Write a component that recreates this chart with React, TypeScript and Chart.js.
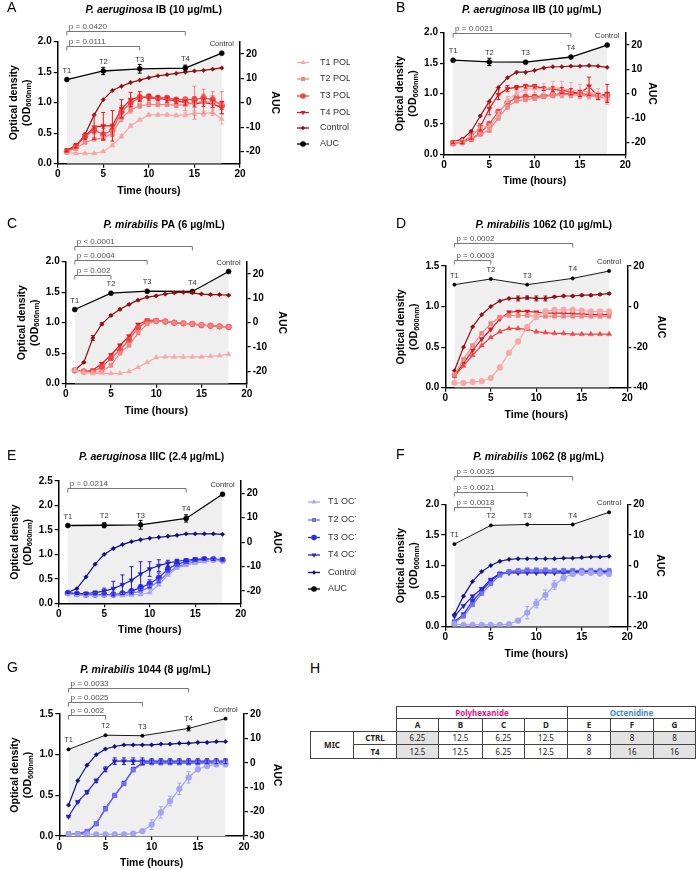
import React, { useEffect, useRef } from 'react';
import { Chart, registerables } from 'chart.js';

Chart.register(...registerables);

const FONT = "'Liberation Sans', Arial, Helvetica, sans-serif";
const TFONT = "'Noto Sans', 'Open Sans', sans-serif";
Chart.defaults.font.family = FONT;
Chart.defaults.color = '#000';

// ---------- shared axes data ----------
const HOURS = [1, 2, 3, 4, 5, 6, 7, 8, 9, 10, 11, 12, 13, 14, 15, 16, 17, 18];
const AUC_HOURS = [1, 5, 9, 14, 18];
const AUC_LABELS = ['T1', 'T2', 'T3', 'T4', 'Control'];
const POL_NAMES = ['T1 POL', 'T2 POL', 'T3 POL', 'T4 POL', 'Control', 'AUC'];
const OCT_NAMES = ['T1 OCT', 'T2 OCT', 'T3 OCT', 'T4 OCT', 'Control', 'AUC'];
const AUC_TICKS_25 = [-20, -10, 0, 10, 20];
const AUC_TICKS_D = [-40, -20, 0, 20];
const AUC_TICKS_F = [-20, -10, 0, 10, 20];
const AUC_TICKS_G = [-30, -20, -10, 0, 10, 20];

// ---------- Panel A ----------
const A_T1 = [0.18, 0.17, 0.17, 0.17, 0.2, 0.3, 0.45, 0.62, 0.72, 0.8, 0.8, 0.8, 0.79, 0.8, 0.83, 0.82, 0.84, 0.73];
const A_T2 = [0.2, 0.25, 0.35, 0.4, 0.42, 0.5, 0.75, 0.88, 0.95, 0.97, 0.97, 0.97, 0.96, 0.97, 1.0, 1.02, 1.0, 1.0];
const A_T3 = [0.2, 0.28, 0.45, 0.55, 0.48, 0.55, 0.85, 1.0, 1.08, 1.1, 1.08, 1.08, 1.05, 1.05, 1.05, 1.08, 1.05, 0.95];
const A_T4 = [0.22, 0.3, 0.45, 0.6, 0.62, 0.62, 0.9, 1.05, 1.1, 1.08, 1.07, 1.05, 1.03, 1.0, 0.98, 1.0, 0.98, 0.92];
const A_CTRL = [0.2, 0.28, 0.48, 0.8, 1.05, 1.2, 1.27, 1.33, 1.37, 1.41, 1.44, 1.46, 1.48, 1.5, 1.52, 1.53, 1.55, 1.57];
const A_AUC = [9.5, 13, 13.9, 14.2, 20.3];
const A_T1_ERR = [0.01, 0.01, 0.01, 0.01, 0.01, 0.02, 0.03, 0.03, 0.02, 0.02, 0.02, 0.02, 0.02, 0.03, 0.04, 0.04, 0.05, 0.08];
const A_T2_ERR = [0.02, 0.02, 0.02, 0.02, 0.03, 0.04, 0.06, 0.05, 0.04, 0.03, 0.03, 0.03, 0.04, 0.1, 0.27, 0.2, 0.18, 0.18];
const A_T3_ERR = [0.02, 0.03, 0.04, 0.06, 0.1, 0.1, 0.1, 0.06, 0.05, 0.04, 0.03, 0.03, 0.03, 0.04, 0.05, 0.06, 0.06, 0.06];
const A_T4_ERR = [0.02, 0.03, 0.05, 0.2, 0.22, 0.25, 0.15, 0.12, 0.08, 0.05, 0.04, 0.04, 0.04, 0.04, 0.05, 0.06, 0.06, 0.1];
const A_AUC_ERR = [0, 1.5, 1.8, 1.2, 0];

// ---------- Panel B ----------
const B_T1 = [0.2, 0.22, 0.3, 0.45, 0.45, 0.65, 0.9, 1.0, 1.07, 1.08, 1.08, 1.1, 1.08, 1.06, 1.05, 1.02, 1.0, 0.9];
const B_T2 = [0.18, 0.2, 0.25, 0.33, 0.4, 0.6, 0.78, 0.88, 0.9, 0.92, 0.95, 0.97, 0.98, 0.98, 0.97, 0.96, 0.95, 0.92];
const B_T3 = [0.18, 0.2, 0.25, 0.35, 0.5, 0.7, 0.85, 0.93, 0.95, 0.95, 0.96, 0.98, 1.0, 1.0, 1.0, 0.98, 0.97, 0.97];
const B_T4 = [0.2, 0.2, 0.3, 0.45, 0.75, 0.98, 1.08, 1.1, 1.12, 1.12, 1.08, 1.07, 1.05, 1.03, 1.0, 1.12, 0.95, 1.0];
const B_CTRL = [0.2, 0.25, 0.38, 0.63, 0.87, 1.1, 1.26, 1.35, 1.35, 1.38, 1.42, 1.44, 1.44, 1.45, 1.45, 1.46, 1.45, 1.43];
const B_AUC = [13.7, 13, 12.9, 15, 19.9];
const B_T1_ERR = [0.01, 0.01, 0.02, 0.04, 0.05, 0.05, 0.05, 0.04, 0.05, 0.06, 0.08, 0.1, 0.12, 0.12, 0.1, 0.08, 0.08, 0.08];
const B_T2_ERR = [0.01, 0.01, 0.02, 0.03, 0.04, 0.04, 0.04, 0.03, 0.03, 0.03, 0.03, 0.04, 0.05, 0.05, 0.05, 0.05, 0.05, 0.05];
const B_T4_ERR = [0.02, 0.02, 0.05, 0.05, 0.1, 0.08, 0.05, 0.03, 0.03, 0.03, 0.03, 0.04, 0.05, 0.05, 0.05, 0.15, 0.05, 0.15];
const B_AUC_ERR = [0, 1.5, 0, 0, 0];

// ---------- Panel C ----------
const C_T1 = [0.22, 0.18, 0.17, 0.17, 0.17, 0.17, 0.2, 0.27, 0.35, 0.43, 0.44, 0.44, 0.44, 0.44, 0.44, 0.45, 0.46, 0.48];
const C_T2 = [0.22, 0.2, 0.18, 0.2, 0.3, 0.5, 0.63, 0.83, 0.98, 1.03, 1.02, 1.0, 0.99, 0.98, 0.96, 0.95, 0.94, 0.93];
const C_T3 = [0.22, 0.2, 0.2, 0.27, 0.42, 0.55, 0.72, 0.92, 1.02, 1.03, 1.02, 1.0, 0.99, 0.98, 0.96, 0.95, 0.94, 0.93];
const C_T4 = [0.22, 0.2, 0.22, 0.33, 0.47, 0.63, 0.78, 0.97, 1.04, 1.04, 1.02, 1.0, 0.99, 0.98, 0.96, 0.95, 0.94, 0.93];
const C_CTRL = [0.22, 0.35, 0.75, 0.98, 1.12, 1.22, 1.3, 1.37, 1.42, 1.44, 1.47, 1.49, 1.5, 1.49, 1.47, 1.46, 1.46, 1.45];
const C_AUC = [5.4, 12.1, 12.9, 12.8, 21];
const C_CTRL_ERR = [0, 0.01, 0.04, 0.02, 0.01, 0.01, 0.01, 0.01, 0.01, 0.01, 0.01, 0.01, 0.01, 0.01, 0.01, 0.01, 0.01, 0.01];

// ---------- Panel D ----------
const D_T1 = [0.06, 0.06, 0.07, 0.08, 0.12, 0.25, 0.43, 0.57, 0.75, 0.88, 0.94, 0.96, 0.96, 0.96, 0.95, 0.94, 0.94, 0.94];
const D_T2 = [0.16, 0.35, 0.52, 0.67, 0.79, 0.87, 0.89, 0.89, 0.89, 0.88, 0.88, 0.88, 0.88, 0.88, 0.88, 0.88, 0.88, 0.88];
const D_T3 = [0.14, 0.27, 0.4, 0.52, 0.62, 0.69, 0.73, 0.73, 0.72, 0.69, 0.68, 0.67, 0.67, 0.66, 0.66, 0.66, 0.66, 0.66];
const D_T4 = [0.15, 0.3, 0.46, 0.6, 0.72, 0.85, 0.93, 0.94, 0.94, 0.93, 0.92, 0.92, 0.92, 0.91, 0.91, 0.9, 0.9, 0.9];
const D_CTRL = [0.21, 0.5, 0.75, 0.9, 1.0, 1.07, 1.1, 1.1, 1.11, 1.1, 1.1, 1.12, 1.13, 1.13, 1.14, 1.14, 1.15, 1.16];
const D_AUC = [10.8, 13.6, 10.8, 13.9, 17.5];
const D_T1_ERR = [0, 0, 0, 0, 0, 0, 0, 0, 0.01, 0.04, 0.03, 0.02, 0.02, 0.01, 0.01, 0.01, 0.01, 0.01];
const D_CTRL_ERR = [0, 0, 0, 0, 0, 0, 0, 0.03, 0.02, 0.03, 0.03, 0.01, 0.01, 0.01, 0.01, 0.01, 0.01, 0.01];

// ---------- Panel E ----------
const E_T1 = [0.19, 0.17, 0.16, 0.16, 0.16, 0.16, 0.16, 0.17, 0.18, 0.22, 0.38, 0.58, 0.72, 0.78, 0.82, 0.85, 0.87, 0.86];
const E_T2 = [0.2, 0.18, 0.17, 0.17, 0.17, 0.17, 0.18, 0.2, 0.25, 0.33, 0.45, 0.62, 0.75, 0.8, 0.85, 0.88, 0.9, 0.88];
const E_T3 = [0.21, 0.19, 0.18, 0.18, 0.18, 0.18, 0.2, 0.25, 0.32, 0.4, 0.52, 0.7, 0.8, 0.85, 0.88, 0.9, 0.9, 0.88];
const E_T4 = [0.22, 0.2, 0.2, 0.22, 0.25, 0.3, 0.38, 0.47, 0.6, 0.7, 0.77, 0.82, 0.86, 0.88, 0.9, 0.91, 0.9, 0.9];
const E_CTRL = [0.22, 0.3, 0.54, 0.8, 1.0, 1.12, 1.2, 1.26, 1.3, 1.33, 1.35, 1.37, 1.39, 1.42, 1.42, 1.42, 1.42, 1.41];
const E_AUC = [6.8, 6.9, 7.1, 9.7, 19.6];
const E_T3_ERR = [0.01, 0.01, 0.01, 0.01, 0.01, 0.01, 0.02, 0.03, 0.06, 0.08, 0.1, 0.06, 0.04, 0.03, 0.02, 0.02, 0.02, 0.02];
const E_T4_ERR = [0.02, 0.02, 0.02, 0.03, 0.06, 0.15, 0.2, 0.28, 0.25, 0.15, 0.12, 0.06, 0.04, 0.03, 0.02, 0.02, 0.02, 0.02];
const E_AUC_ERR = [0, 1, 1.8, 1.5, 0];

// ---------- Panel F ----------
const F_T1 = [0.04, 0.03, 0.03, 0.03, 0.03, 0.03, 0.04, 0.1, 0.23, 0.38, 0.52, 0.68, 0.8, 0.86, 0.88, 0.88, 0.87, 0.86];
const F_T2 = [0.07, 0.17, 0.36, 0.54, 0.7, 0.84, 0.9, 0.92, 0.93, 0.93, 0.93, 0.92, 0.92, 0.92, 0.92, 0.92, 0.92, 0.92];
const F_T3 = [0.08, 0.2, 0.42, 0.58, 0.75, 0.86, 0.9, 0.91, 0.91, 0.91, 0.91, 0.91, 0.9, 0.9, 0.9, 0.9, 0.9, 0.9];
const F_T4 = [0.17, 0.34, 0.5, 0.62, 0.77, 0.87, 0.88, 0.88, 0.88, 0.88, 0.88, 0.88, 0.88, 0.88, 0.88, 0.88, 0.88, 0.87];
const F_CTRL = [0.2, 0.5, 0.74, 0.9, 1.0, 1.07, 1.1, 1.11, 1.11, 1.11, 1.11, 1.11, 1.12, 1.12, 1.13, 1.14, 1.14, 1.15];
const F_AUC = [7.0, 13.1, 13.4, 13.4, 17.4];
const F_T1_ERR = [0, 0, 0, 0, 0, 0, 0.01, 0.03, 0.1, 0.07, 0.08, 0.07, 0.05, 0.02, 0.02, 0.02, 0.02, 0.02];

// ---------- Panel G ----------
const G_T1 = [0.02, 0.02, 0.02, 0.02, 0.02, 0.02, 0.02, 0.03, 0.06, 0.14, 0.29, 0.43, 0.58, 0.72, 0.82, 0.86, 0.88, 0.88];
const G_T2 = [0.03, 0.03, 0.06, 0.15, 0.33, 0.5, 0.64, 0.81, 0.89, 0.9, 0.9, 0.9, 0.9, 0.9, 0.9, 0.9, 0.91, 0.91];
const G_T3 = [0.02, 0.02, 0.05, 0.15, 0.34, 0.5, 0.65, 0.82, 0.9, 0.9, 0.9, 0.9, 0.9, 0.9, 0.9, 0.9, 0.9, 0.9];
const G_T4 = [0.24, 0.42, 0.54, 0.68, 0.82, 0.92, 0.92, 0.92, 0.92, 0.92, 0.92, 0.92, 0.92, 0.92, 0.92, 0.92, 0.92, 0.92];
const G_CTRL = [0.38, 0.68, 0.87, 1.0, 1.07, 1.1, 1.12, 1.12, 1.12, 1.12, 1.13, 1.13, 1.14, 1.14, 1.15, 1.15, 1.16, 1.16];
const G_AUC = [5.5, 11.3, 11.1, 14.1, 18.1];
const G_T1_ERR = [0, 0, 0, 0, 0, 0, 0, 0.01, 0.01, 0.06, 0.07, 0.06, 0.07, 0.07, 0.03, 0.02, 0.02, 0.02];
const G_T4_ERR = [0.01, 0.01, 0.02, 0.02, 0.03, 0.04, 0.04, 0.04, 0.04, 0.03, 0.03, 0.03, 0.03, 0.03, 0.03, 0.03, 0.03, 0.03];
const G_AUC_ERR = [0, 0, 0, 1, 0];

// ---------- H table ----------
const MIC_COLS = ['A', 'B', 'C', 'D', 'E', 'F', 'G'];
const MIC_CTRL = ['6.25', '12.5', '6.25', '12.5', '8', '8', '8'];
const MIC_T4 = ['12.5', '12.5', '6.25', '12.5', '8', '16', '16'];
const MIC_SHADED = [true, false, false, false, false, true, true];

// ---------- styles ----------
const RED = ['#F6A8A8', '#F28484', '#EC4848', '#E5161B', '#8E1014'];
const BLUE = ['#A3A3F3', '#7272EE', '#2C2CF0', '#2222C4', '#101078'];
type Shape = [string, number];
const SH_1: Shape[] = [['triangle', 0], ['rect', 0], ['circle', 0], ['triangle', 180], ['rectRot', 0]];
const SH_D: Shape[] = [['circle', 0], ['rect', 0], ['triangle', 0], ['triangle', 180], ['rectRot', 0]];
const SH_FG: Shape[] = [['circle', 0], ['rect', 0], ['rect', 0], ['triangle', 180], ['rectRot', 0]];

type Series = { data: number[]; err?: number[] };
type Bracket = { to: number; level: number; label: string };
interface PanelDef {
  letter: string; italic: string; rest: string;
  ox: number; oy: number; cw: number; ch: number;
  L: number; R: number; T: number; B: number;
  yMax: number; y2Min: number; y2Max: number; y2Ticks: number[];
  series: Series[]; auc: number[]; aucErr?: number[];
  aucRadius: number; aucWidth: number;
  brackets: Bracket[]; colors: string[]; shapes: Shape[]; names: string[];
  legend?: { lineX: number; textX: number; ys: number[] };
  titleX: number; titleY: number; letterX: number; letterY: number; aucDx: number;
}

const PANELS: PanelDef[] = [
  {
    letter: 'A', italic: 'P. aeruginosa', rest: ' IB (10 µg/mL)',
    ox: 0, oy: 0, cw: 350, ch: 210, L: 57.7, R: 240, T: 41.7, B: 163.7,
    yMax: 2, y2Min: -25, y2Max: 25, y2Ticks: AUC_TICKS_25,
    series: [{ data: A_T1, err: A_T1_ERR }, { data: A_T2, err: A_T2_ERR }, { data: A_T3, err: A_T3_ERR }, { data: A_T4, err: A_T4_ERR }, { data: A_CTRL }],
    auc: A_AUC, aucErr: A_AUC_ERR, aucRadius: 2.5, aucWidth: 1.3,
    brackets: [{ to: 14, level: 2.18, label: 'p = 0.0420' }, { to: 9, level: 1.925, label: 'p = 0.0111' }],
    colors: RED, shapes: SH_1, names: POL_NAMES,
    legend: { lineX: 303, textX: 320, ys: [62.5, 79, 96, 112.5, 128, 144] },
    titleX: 153.7, titleY: 10, letterX: 7, letterY: 8, aucDx: 35,
  },
  {
    letter: 'B', italic: 'P. aeruginosa', rest: ' IIB (10 µg/mL)',
    ox: 350, oy: 0, cw: 349, ch: 210, L: 444, R: 625.3, T: 32.7, B: 154.3,
    yMax: 2, y2Min: -25, y2Max: 25, y2Ticks: AUC_TICKS_25,
    series: [{ data: B_T1, err: B_T1_ERR }, { data: B_T2, err: B_T2_ERR }, { data: B_T3 }, { data: B_T4, err: B_T4_ERR }, { data: B_CTRL }],
    auc: B_AUC, aucErr: B_AUC_ERR, aucRadius: 2.5, aucWidth: 1.3,
    brackets: [{ to: 14, level: 2.0, label: 'p = 0.0021' }],
    colors: RED, shapes: SH_1, names: POL_NAMES,
    titleX: 531.7, titleY: 10, letterX: 396, letterY: 8, aucDx: 27,
  },
  {
    letter: 'C', italic: 'P. mirabilis', rest: ' PA (6 µg/mL)',
    ox: 0, oy: 210, cw: 350, ch: 230, L: 65.7, R: 246.7, T: 261.7, B: 383.7,
    yMax: 2, y2Min: -25, y2Max: 25, y2Ticks: AUC_TICKS_25,
    series: [{ data: C_T1 }, { data: C_T2 }, { data: C_T3 }, { data: C_T4 }, { data: C_CTRL, err: C_CTRL_ERR }],
    auc: C_AUC, aucRadius: 2.5, aucWidth: 1.3,
    brackets: [{ to: 14, level: 2.26, label: 'p < 0.0001' }, { to: 9, level: 2.02, label: 'p = 0.0004' }, { to: 5, level: 1.79, label: 'p = 0.002' }],
    colors: RED, shapes: SH_1, names: POL_NAMES,
    titleX: 164.2, titleY: 224.7, letterX: 7, letterY: 223.8, aucDx: 35,
  },
  {
    letter: 'D', italic: 'P. mirabilis', rest: ' 1062 (10 µg/mL)',
    ox: 350, oy: 210, cw: 349, ch: 230, L: 445.3, R: 627.3, T: 266, B: 387.7,
    yMax: 1.5, y2Min: -40, y2Max: 20, y2Ticks: AUC_TICKS_D,
    series: [{ data: D_T1, err: D_T1_ERR }, { data: D_T2 }, { data: D_T3 }, { data: D_T4 }, { data: D_CTRL, err: D_CTRL_ERR }],
    auc: D_AUC, aucRadius: 1.7, aucWidth: 0.9,
    brackets: [{ to: 14, level: 1.78, label: 'p = 0.0002' }, { to: 5, level: 1.574, label: 'p = 0.0003' }],
    colors: RED, shapes: SH_D, names: POL_NAMES,
    titleX: 543.8, titleY: 224.7, letterX: 396, letterY: 223.8, aucDx: 34,
  },
  {
    letter: 'E', italic: 'P. aeruginosa', rest: ' IIIC (2.4 µg/mL)',
    ox: 0, oy: 440, cw: 356, ch: 220, L: 58.7, R: 240.7, T: 481, B: 603.3,
    yMax: 2.5, y2Min: -25, y2Max: 25, y2Ticks: AUC_TICKS_25,
    series: [{ data: E_T1 }, { data: E_T2 }, { data: E_T3, err: E_T3_ERR }, { data: E_T4, err: E_T4_ERR }, { data: E_CTRL }],
    auc: E_AUC, aucErr: E_AUC_ERR, aucRadius: 2.5, aucWidth: 1.3,
    brackets: [{ to: 14, level: 2.35, label: 'p = 0.0214' }],
    colors: BLUE, shapes: SH_1, names: OCT_NAMES,
    legend: { lineX: 314, textX: 328, ys: [502, 520, 537.5, 555, 572.5, 589] },
    titleX: 151.7, titleY: 457, letterX: 7, letterY: 456, aucDx: 36,
  },
  {
    letter: 'F', italic: 'P. mirabilis', rest: ' 1062 (8 µg/mL)',
    ox: 350, oy: 440, cw: 349, ch: 220, L: 445.3, R: 627.3, T: 504.3, B: 626.7,
    yMax: 2, y2Min: -20, y2Max: 20, y2Ticks: AUC_TICKS_F,
    series: [{ data: F_T1, err: F_T1_ERR }, { data: F_T2 }, { data: F_T3 }, { data: F_T4 }, { data: F_CTRL }],
    auc: F_AUC, aucRadius: 1.7, aucWidth: 0.9,
    brackets: [{ to: 14, level: 2.467, label: 'p = 0.0035' }, { to: 9, level: 2.206, label: 'p = 0.0021' }, { to: 5, level: 1.96, label: 'p = 0.0018' }],
    colors: BLUE, shapes: SH_FG, names: OCT_NAMES,
    titleX: 538.7, titleY: 456.7, letterX: 396, letterY: 455.3, aucDx: 33,
  },
  {
    letter: 'G', italic: 'P. mirabilis', rest: ' 1044 (8 µg/mL)',
    ox: 0, oy: 660, cw: 305, ch: 210, L: 59.3, R: 244, T: 714, B: 836,
    yMax: 1.5, y2Min: -30, y2Max: 20, y2Ticks: AUC_TICKS_G,
    series: [{ data: G_T1, err: G_T1_ERR }, { data: G_T2 }, { data: G_T3 }, { data: G_T4, err: G_T4_ERR }, { data: G_CTRL }],
    auc: G_AUC, aucErr: G_AUC_ERR, aucRadius: 1.7, aucWidth: 0.9,
    brackets: [{ to: 14, level: 1.816, label: 'p = 0.0033' }, { to: 9, level: 1.651, label: 'p = 0.0025' }, { to: 5, level: 1.484, label: 'p = 0.002' }],
    colors: BLUE, shapes: SH_FG, names: OCT_NAMES,
    titleX: 145.5, titleY: 670, letterX: 7, letterY: 668.3, aucDx: 33,
  },
];

function drawMarker(ctx: CanvasRenderingContext2D, style: string, rot: number, x: number, y: number, r: number, color: string) {
  ctx.save();
  ctx.translate(x, y);
  ctx.rotate((rot * Math.PI) / 180);
  ctx.fillStyle = color;
  ctx.beginPath();
  const s = r * Math.SQRT1_2;
  if (style === 'circle') ctx.arc(0, 0, r, 0, Math.PI * 2);
  else if (style === 'rect') ctx.rect(-s, -s, 2 * s, 2 * s);
  else if (style === 'rectRot') { ctx.rotate(Math.PI / 4); ctx.rect(-s, -s, 2 * s, 2 * s); }
  else if (style === 'triangle') { ctx.moveTo(0, -r); ctx.lineTo(r * 0.866, r * 0.5); ctx.lineTo(-r * 0.866, r * 0.5); ctx.closePath(); }
  ctx.fill();
  ctx.restore();
}

function buildConfig(p: PanelDef) {
  const datasets: any[] = p.series.map((s, i) => ({
    label: p.names[i],
    data: HOURS.map((h, j) => ({ x: h, y: s.data[j] })),
    errors: s.err,
    borderColor: p.colors[i],
    backgroundColor: p.colors[i],
    pointBackgroundColor: p.colors[i],
    pointBorderColor: p.colors[i],
    borderWidth: 1.2,
    pointStyle: p.shapes[i][0],
    pointRotation: p.shapes[i][1],
    pointRadius: i === 4 ? 2.2 : 2.9,
    pointBorderWidth: 0.5,
    fill: false,
    tension: 0,
    yAxisID: 'y',
  }));
  datasets.push({
    label: 'AUC',
    data: AUC_HOURS.map((h, j) => ({ x: h, y: p.auc[j] })),
    errors: p.aucErr,
    borderColor: '#000',
    backgroundColor: '#efefef',
    pointBackgroundColor: '#000',
    pointBorderColor: '#000',
    borderWidth: p.aucWidth,
    pointRadius: p.aucRadius,
    pointBorderWidth: 0.5,
    pointStyle: 'circle',
    fill: { target: 'start', above: '#efefef', below: '#efefef' },
    tension: 0,
    yAxisID: 'y2',
  });

  const tickFont = { family: FONT, size: 10, weight: 'bold' as const };
  const gridCfg = { drawOnChartArea: false, drawTicks: true, tickLength: 4, color: '#000', lineWidth: 1.2 };
  const borderCfg = { display: true, color: '#000', width: 1.5 };

  const annot = {
    id: 'annot',
    afterDatasetsDraw(chart: any) {
      const ctx: CanvasRenderingContext2D = chart.ctx;
      chart.data.datasets.forEach((ds: any, i: number) => {
        if (!ds.errors) return;
        const meta = chart.getDatasetMeta(i);
        const sc = chart.scales[meta.yAxisID];
        ctx.save();
        ctx.strokeStyle = ds.borderColor;
        ctx.lineWidth = 1;
        meta.data.forEach((pt: any, j: number) => {
          const e = ds.errors[j];
          if (!e) return;
          const v = ds.data[j].y;
          const yt = sc.getPixelForValue(v + e);
          const yb = sc.getPixelForValue(v - e);
          ctx.beginPath();
          ctx.moveTo(pt.x, yt); ctx.lineTo(pt.x, yb);
          ctx.moveTo(pt.x - 2, yt); ctx.lineTo(pt.x + 2, yt);
          ctx.moveTo(pt.x - 2, yb); ctx.lineTo(pt.x + 2, yb);
          ctx.stroke();
        });
        ctx.restore();
      });
    },
    afterDraw(chart: any) {
      const ctx: CanvasRenderingContext2D = chart.ctx;
      const ca = chart.chartArea;
      const xs = chart.scales.x, ys = chart.scales.y, y2 = chart.scales.y2;
      const cx = (ca.left + ca.right) / 2, cy = (ca.top + ca.bottom) / 2;
      ctx.save();
      ctx.fillStyle = '#000';
      ctx.textBaseline = 'middle';
      // panel letter
      ctx.textAlign = 'left';
      ctx.font = `14px ${FONT}`;
      ctx.fillText(p.letter, p.letterX - p.ox, p.letterY - p.oy);
      // title
      const fI = `italic bold 10.5px ${FONT}`, fB = `bold 10.5px ${FONT}`;
      ctx.font = fI; const wI = ctx.measureText(p.italic).width;
      ctx.font = fB; const wB = ctx.measureText(p.rest).width;
      const tx = p.titleX - p.ox - (wI + wB) / 2, ty = p.titleY - p.oy;
      ctx.font = fI; ctx.fillText(p.italic, tx, ty);
      ctx.font = fB; ctx.fillText(p.rest, tx + wI, ty);
      // x title
      ctx.textAlign = 'center';
      ctx.font = `bold 10.5px ${FONT}`;
      ctx.fillText('Time (hours)', cx, ca.bottom + 27);
      // y title
      ctx.save();
      ctx.translate(ca.left - 44, cy);
      ctx.rotate(-Math.PI / 2);
      ctx.font = `bold 10.5px ${FONT}`;
      ctx.textAlign = 'center';
      ctx.fillText('Optical density', 0, 0);
      ctx.translate(0, 13);
      const parts: [string, number, number][] = [['(OD', 10.5, 0], ['600nm', 7.5, 2.5], [')', 10.5, 0]];
      let total = 0;
      const widths = parts.map(([t, s]) => { ctx.font = `bold ${s}px ${FONT}`; const w = ctx.measureText(t).width; total += w; return w; });
      let px = -total / 2;
      ctx.textAlign = 'left';
      parts.forEach(([t, s, dy], k) => { ctx.font = `bold ${s}px ${FONT}`; ctx.fillText(t, px, dy); px += widths[k]; });
      ctx.restore();
      // AUC title
      ctx.save();
      ctx.translate(ca.right + p.aucDx, cy);
      ctx.rotate(Math.PI / 2);
      ctx.textAlign = 'center';
      ctx.font = `bold 10.5px ${FONT}`;
      ctx.fillText('AUC', 0, 0);
      ctx.restore();
      // T labels
      ctx.font = `7.5px ${FONT}`;
      ctx.fillStyle = '#333';
      ctx.textAlign = 'center';
      AUC_HOURS.forEach((h, i) => {
        ctx.fillText(AUC_LABELS[i], xs.getPixelForValue(h), y2.getPixelForValue(p.auc[i]) - 9);
      });
      // brackets
      ctx.strokeStyle = '#777';
      ctx.lineWidth = 1;
      ctx.font = `8px ${FONT}`;
      ctx.fillStyle = '#555';
      ctx.textAlign = 'left';
      ctx.textBaseline = 'alphabetic';
      p.brackets.forEach((b) => {
        const x1 = xs.getPixelForValue(1), x2 = xs.getPixelForValue(b.to);
        const yb = Math.round(ys.getPixelForValue(b.level)) + 0.5;
        ctx.beginPath();
        ctx.moveTo(x1, yb + 4); ctx.lineTo(x1, yb); ctx.lineTo(x2, yb); ctx.lineTo(x2, yb + 4);
        ctx.stroke();
        ctx.fillText(b.label, x1 + 2, yb - 3);
      });
      // legend
      if (p.legend) {
        const lg = p.legend;
        ctx.textBaseline = 'middle';
        ctx.font = `9px ${FONT}`;
        const cols = [...p.colors, '#000'];
        const shapes: Shape[] = [...p.shapes, ['circle', 0]];
        p.names.forEach((n, i) => {
          const y = lg.ys[i] - p.oy;
          const x = lg.lineX - p.ox;
          ctx.strokeStyle = cols[i];
          ctx.lineWidth = 1.3;
          ctx.beginPath(); ctx.moveTo(x - 6, y); ctx.lineTo(x + 6, y); ctx.stroke();
          drawMarker(ctx, shapes[i][0], shapes[i][1], x, y, i === 4 ? 2.2 : 2.8, cols[i]);
          ctx.fillStyle = '#333';
          ctx.fillText(n, lg.textX - p.ox, y);
        });
      }
      ctx.restore();
    },
  };

  return {
    type: 'line',
    data: { datasets },
    plugins: [annot],
    options: {
      responsive: false,
      animation: false,
      devicePixelRatio: 1,
      layout: {
        padding: {
          left: 0,
          top: p.T - p.oy,
          right: p.cw - (p.R - p.ox) - 30,
          bottom: p.ch - (p.B - p.oy) - 20,
        },
      },
      plugins: {
        legend: { display: false },
        tooltip: { enabled: false },
        title: { display: false },
        filler: { drawTime: 'beforeDatasetsDraw' },
      },
      scales: {
        x: {
          type: 'linear', position: 'bottom', min: 0, max: 20,
          ticks: { stepSize: 5, font: tickFont, color: '#000', padding: 1, maxRotation: 0, includeBounds: false },
          grid: gridCfg, border: borderCfg,
          afterFit: (s: any) => { s.height = 20; },
        },
        y: {
          type: 'linear', position: 'left', min: 0, max: p.yMax,
          ticks: { stepSize: 0.5, font: tickFont, color: '#000', padding: 2, includeBounds: false, callback: (v: any) => Number(v).toFixed(1) },
          grid: gridCfg, border: borderCfg,
          afterFit: (s: any) => { s.width = p.L - p.ox; },
        },
        y2: {
          type: 'linear', position: 'right', min: p.y2Min, max: p.y2Max,
          ticks: { font: tickFont, color: '#000', padding: 2, autoSkip: false, callback: (v: any) => String(v) },
          grid: gridCfg, border: borderCfg,
          afterBuildTicks: (s: any) => { s.ticks = p.y2Ticks.map((v) => ({ value: v })); },
          afterFit: (s: any) => { s.width = 30; },
        },
      },
    },
  };
}

function PanelChart({ p }: { p: PanelDef }) {
  const ref = useRef<HTMLCanvasElement>(null);
  useEffect(() => {
    const chart = new Chart(ref.current as HTMLCanvasElement, buildConfig(p) as any);
    return () => chart.destroy();
  }, [p]);
  return (
    <canvas
      ref={ref}
      width={p.cw}
      height={p.ch}
      style={{ position: 'absolute', left: p.ox, top: p.oy, width: p.cw, height: p.ch }}
    />
  );
}

const COL_X = [396, 438, 482, 524, 567, 610, 653, 695];
const ROW_Y = [706, 718, 731, 744, 758];

function Cell({ x1, x2, y1, y2, text, style }: { x1: number; x2: number; y1: number; y2: number; text: string; style?: any }) {
  return (
    <div
      style={{
        position: 'absolute', left: x1, top: y1, width: x2 - x1 + 1, height: y2 - y1 + 1,
        border: '1px solid #444', boxSizing: 'border-box', display: 'flex', alignItems: 'center',
        justifyContent: 'center', fontFamily: TFONT, fontSize: 8, color: '#222', lineHeight: 1,
        background: '#fff', ...style,
      }}
    >
      {text}
    </div>
  );
}

function MicTable() {
  const bold = { fontWeight: 700 };
  return (
    <>
      <div style={{ position: 'absolute', left: 310, top: 660, fontFamily: FONT, fontSize: 14, lineHeight: '17px' }}>H</div>
      <Cell x1={COL_X[0]} x2={COL_X[4]} y1={ROW_Y[0]} y2={ROW_Y[1]} text="Polyhexanide" style={{ ...bold, color: '#E5197D' }} />
      <Cell x1={COL_X[4]} x2={COL_X[7]} y1={ROW_Y[0]} y2={ROW_Y[1]} text="Octenidine" style={{ ...bold, color: '#3C8CD0' }} />
      {MIC_COLS.map((c, i) => (
        <Cell key={'h' + c} x1={COL_X[i]} x2={COL_X[i + 1]} y1={ROW_Y[1]} y2={ROW_Y[2]} text={c} style={bold} />
      ))}
      {MIC_CTRL.map((v, i) => (
        <Cell key={'c' + i} x1={COL_X[i]} x2={COL_X[i + 1]} y1={ROW_Y[2]} y2={ROW_Y[3]} text={v} style={{ background: MIC_SHADED[i] ? '#e2e2e2' : '#fff' }} />
      ))}
      {MIC_T4.map((v, i) => (
        <Cell key={'t' + i} x1={COL_X[i]} x2={COL_X[i + 1]} y1={ROW_Y[3]} y2={ROW_Y[4]} text={v} style={{ background: MIC_SHADED[i] ? '#e2e2e2' : '#fff' }} />
      ))}
      <Cell x1={310} x2={353} y1={ROW_Y[2]} y2={ROW_Y[4]} text="MIC" style={bold} />
      <Cell x1={353} x2={COL_X[0]} y1={ROW_Y[2]} y2={ROW_Y[3]} text="CTRL" style={bold} />
      <Cell x1={353} x2={COL_X[0]} y1={ROW_Y[3]} y2={ROW_Y[4]} text="T4" style={bold} />
    </>
  );
}

export default function App() {
  return (
    <div style={{ position: 'absolute', left: 0, top: 0, width: 699, height: 870, background: '#fff', overflow: 'hidden' }}>
      {PANELS.map((p) => (
        <PanelChart key={p.letter} p={p} />
      ))}
      <MicTable />
    </div>
  );
}
